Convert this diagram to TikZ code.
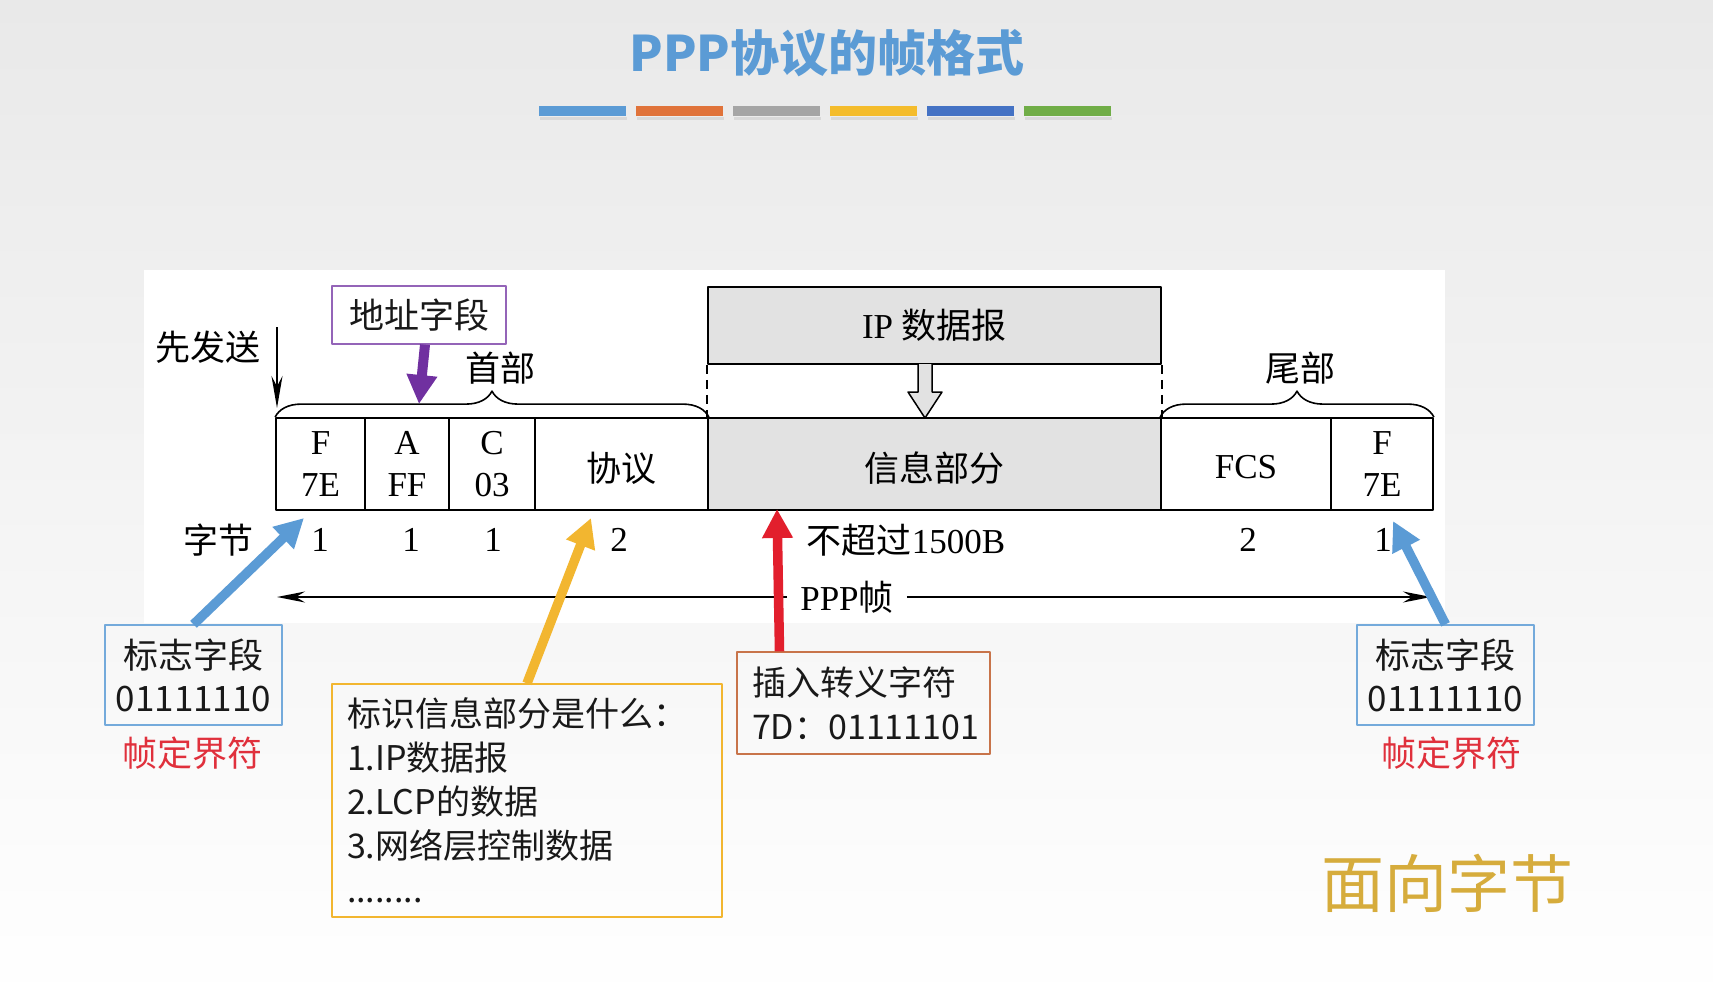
\documentclass[tikz,border=0pt]{standalone}
\usepackage{fontspec}
\setmainfont{Liberation Serif}
\newfontfamily\cjk{Noto Sans CJK SC}
\usepackage{xcolor}
\usetikzlibrary{arrows.meta,positioning,decorations.pathreplacing}

\definecolor{bgtop}{HTML}{E9E9E9}
\definecolor{titleblue}{HTML}{5B9BD5}
\definecolor{barblue}{HTML}{5B9BD5}
\definecolor{barorange}{HTML}{E0733A}
\definecolor{bargray}{HTML}{A5A5A5}
\definecolor{baryellow}{HTML}{F4BC2C}
\definecolor{bardeep}{HTML}{4472C4}
\definecolor{bargreen}{HTML}{70AD47}
\definecolor{infogray}{HTML}{E2E2E2}
\definecolor{flagblue}{HTML}{5B9BD5}
\definecolor{addrpurple}{HTML}{7030A0}
\definecolor{protgold}{HTML}{F2B630}
\definecolor{escred}{HTML}{E21F2D}
\definecolor{escbrown}{HTML}{C8744A}
\definecolor{delimred}{HTML}{E0303C}
\definecolor{bytegold}{HTML}{D6AC3C}

\begin{document}
\begin{tikzpicture}[x=1pt, y=-1pt, line join=round,
    cell/.style={draw, line width=1.8pt, minimum height=92pt, inner sep=0pt,
      align=center, font=\fontsize{35}{41.5}\selectfont},
    frametxt/.style={inner sep=0pt, font=\fontsize{35}{42}\selectfont},
    callout/.style={draw, line width=1.3pt, inner sep=0pt, text=black!90,
      font=\cjk\fontsize{34}{44}\selectfont},
    fatarrow/.style={line width=9.5pt, -{Triangle[length=29pt, width=29pt]}},
    thinarrow/.style={line width=1.8pt, -{Stealth[length=28pt, width=11pt]}}]

  % ========================================================
  % 0. PAGE, BACKGROUND AND TITLE
  % ========================================================
  \useasboundingbox (0,0) rectangle (1713,1004);
  \shade[top color=bgtop, bottom color=white] (0,0) rectangle (1713,1004);
  \fill[white] (144,270) rectangle (1445,623);

  \node[font=\cjk\bfseries\fontsize{49}{56}\selectfont, text=titleblue] (title) at (827,53) {PPP协议的帧格式};

  % colour strip under the title
  \fill[black, opacity=0.08] (540,117) rectangle ++(87,3);
  \fill[black, opacity=0.08] (637,117) rectangle ++(87,3);
  \fill[black, opacity=0.08] (734,117) rectangle ++(87,3);
  \fill[black, opacity=0.08] (831,117) rectangle ++(87,3);
  \fill[black, opacity=0.08] (928,117) rectangle ++(87,3);
  \fill[black, opacity=0.08] (1025,117) rectangle ++(87,3);
  \fill[barblue]   (539,106) rectangle ++(87,10);
  \fill[barorange] (636,106) rectangle ++(87,10);
  \fill[bargray]   (733,106) rectangle ++(87,10);
  \fill[baryellow] (830,106) rectangle ++(87,10);
  \fill[bardeep]   (927,106) rectangle ++(87,10);
  \fill[bargreen]  (1024,106) rectangle ++(87,10);

  % ========================================================
  % 1. THE FRAME FIELDS
  % ========================================================
  \node[cell, minimum width=89pt]  (flagA) at (320.5,464) {F\\7E};
  \node[cell, minimum width=84pt]  (addrF) at (407,464)   {A\\FF};
  \node[cell, minimum width=86pt]  (ctrlF) at (492,464)   {C\\03};
  \node[cell, minimum width=173pt] (protF) at (621.5,464) {\raisebox{-4pt}[\height][\depth]{\cjk 协议}};
  \node[cell, minimum width=453pt, fill=infogray] (infoF) at (934.5,464) {\raisebox{-4pt}[\height][\depth]{\cjk 信息部分}};
  \node[cell, minimum width=170pt] (fcsF)  at (1246,464)  {\raisebox{-3pt}[\height][\depth]{FCS}};
  \node[cell, minimum width=102pt] (flagB) at (1382,464)  {F\\7E};

  % IP datagram sitting above the information field
  \node[cell, minimum width=453pt, minimum height=77pt, fill=infogray] (ipF) at (934.5,325.5) {IP {\cjk 数据报}};
  \draw[line width=1.5pt, dash pattern=on 9pt off 6pt] (ipF.south west) -- (infoF.north west);
  \draw[line width=1.5pt, dash pattern=on 9pt off 6pt] (ipF.south east) -- (infoF.north east);
  \draw[line width=1.5pt, fill=infogray] (918,364) -- (918,392) -- (908,392) -- (925,418)
    -- (942,392) -- (932,392) -- (932,364);

  % ========================================================
  % 2. HEADER / TRAILER BRACES
  % ========================================================
  \draw[line width=1.6pt, decorate, decoration={brace, amplitude=26pt}] (flagA.north west) -- (protF.north east);
  \draw[line width=1.6pt, decorate, decoration={brace, amplitude=26pt}] (fcsF.north west) -- (flagB.north east);
  \node[frametxt] (headLbl) at (500,368)  {\cjk 首部};
  \node[frametxt] (tailLbl) at (1300,368) {\cjk 尾部};

  % sending order
  \node[frametxt] (sendLbl) at (208,347) {\cjk 先发送};
  \coordinate (sendTop) at (277,327);
  \coordinate (sendTip) at (277,408);
  \draw[line width=1.8pt, -{Stealth[length=32pt, width=11pt]}] (sendTop) -- (sendTip);

  % address field callout
  \node[callout, draw=addrpurple!75, minimum width=174pt, minimum height=58pt,
    font=\cjk\fontsize{35}{42}\selectfont] (addrBox) at (419,315) {地址字段};
  \coordinate (addrTip) at (419,404);
  \draw[fatarrow, line width=10pt, addrpurple] ([xshift=6pt]addrBox.south) -- (addrTip);

  % ========================================================
  % 3. FIELD LENGTHS IN BYTES
  % ========================================================
  \node[frametxt] (byteLbl) at (218,540)  {\cjk 字节};
  \node[frametxt] (byteF1)  at (320,540)  {1};
  \node[frametxt] (byteA)   at (411,540)  {1};
  \node[frametxt] (byteC)   at (493,540)  {1};
  \node[frametxt] (byteP)   at (619,540)  {2};
  \node[frametxt] (byteI)   at (906,540)  {{\cjk 不超过}1500B};
  \node[frametxt] (byteS)   at (1248,540) {2};
  \node[frametxt] (byteF2)  at (1383,540) {1};

  % whole frame span
  \node[frametxt, inner xsep=13pt] (pppLbl) at (847,597) {PPP{\cjk 帧}};
  \coordinate (frameStart) at (277,597);
  \coordinate (frameEnd)   at (1431,597);
  \draw[thinarrow] (pppLbl.west) -- (frameStart);
  \draw[thinarrow] (pppLbl.east) -- (frameEnd);

  % ========================================================
  % 4. CALLOUT BOXES BELOW THE FRAME
  % ========================================================
  \node[callout, draw=flagblue!85, minimum width=177pt, minimum height=100pt, align=center,
    font=\cjk\fontsize{35}{43}\selectfont] (flagBoxL) at (193.5,675) {标志字段\\01111110};
  \node[callout, draw=flagblue!85, minimum width=177pt, minimum height=100pt, align=center,
    font=\cjk\fontsize{35}{43}\selectfont] (flagBoxR) at (1445.5,675) {标志字段\\01111110};
  \node[font=\cjk\fontsize{35}{42}\selectfont, text=delimred, inner sep=0pt] (delimL) at (192,753)  {帧定界符};
  \node[font=\cjk\fontsize{35}{42}\selectfont, text=delimred, inner sep=0pt] (delimR) at (1451,753) {帧定界符};

  \node[callout, draw=protgold, minimum width=390pt, minimum height=233pt, text width=360pt,
    align=left] (protBox) at (527,800.5)
    {标识信息部分是什么：\\1.IP数据报\\2.LCP的数据\\3.网络层控制数据\\........};

  \node[callout, draw=escbrown, minimum width=253pt, minimum height=102pt, text width=223pt,
    align=left] (escBox) at (863.5,703) {插入转义字符\\7D：01111101};

  % pointers into the frame
  \coordinate (flagTipL) at (304,518);
  \coordinate (flagTipR) at (1393,521);
  \coordinate (protTip)  at (591,518);
  \coordinate (escTip)   at (777,509);
  \draw[fatarrow, flagblue] (flagBoxL.north) -- (flagTipL);
  \draw[fatarrow, flagblue] (flagBoxR.north) -- (flagTipR);
  \draw[fatarrow, protgold] (protBox.north) -- (protTip);
  \draw[fatarrow, escred] ([xshift=-84pt]escBox.north) -- (escTip);

  % ========================================================
  % 5. BYTE-ORIENTED NOTE
  % ========================================================
  \node[font=\cjk\fontsize{63}{70}\selectfont, text=bytegold] (byteWise) at (1447,883) {面向字节};

\end{tikzpicture}
\end{document}
